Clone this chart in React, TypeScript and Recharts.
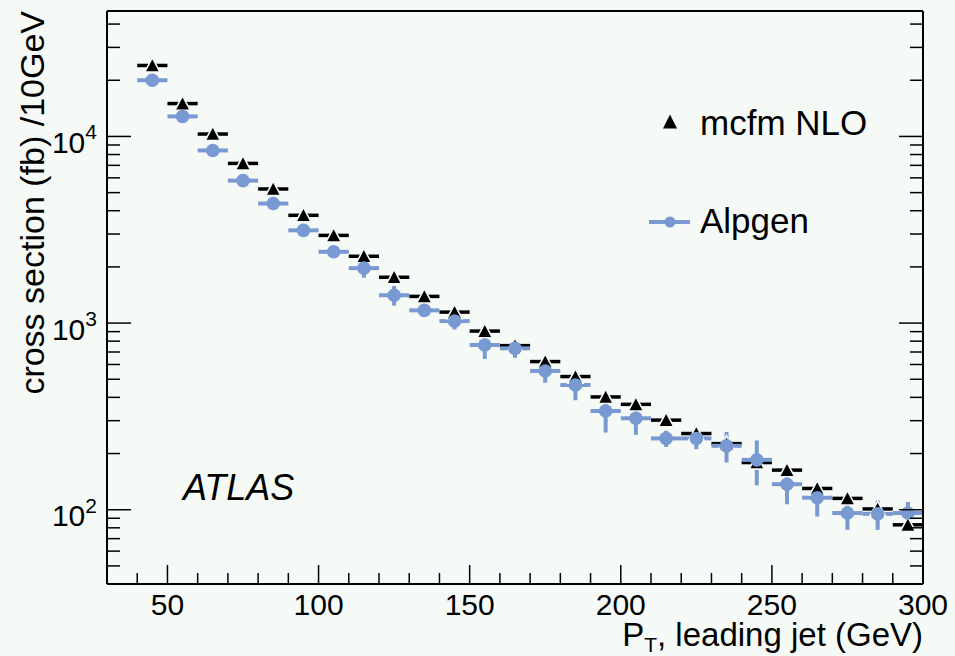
import { ScatterChart, Scatter, XAxis, YAxis, ErrorBar } from "recharts";

const BG = "#f5faf7";
const BLUE = "#7899d2";
const FONT = "'Liberation Sans', Arial, Helvetica, sans-serif";

// leading-jet pT bin centres (GeV), 10 GeV wide bins
const ptBins = [
  45, 55, 65, 75, 85, 95, 105, 115, 125, 135, 145, 155, 165,
  175, 185, 195, 205, 215, 225, 235, 245, 255, 265, 275, 285, 295,
];
const binHalfWidth = 5;

// cross section (fb) per 10 GeV
const mcfmNlo = [
  24000, 15000, 10300, 7170, 5230, 3780, 2950, 2280, 1760, 1390, 1145, 906, 757,
  622, 517, 402, 367, 302, 256, 226, 179, 163, 130, 115, 101, 83,
];
const alpgen = [
  20000, 12800, 8410, 5800, 4370, 3140, 2410, 1970, 1410, 1170, 1025, 763, 732,
  554, 466, 338, 309, 241, 241, 220, 185, 137, 116, 96, 95, 96,
];
const alpgenErr = [
  400, 300, 250, 200, 150, 130, 120, 220, 170, 90, 100, 120, 80,
  75, 80, 79, 57, 24, 30, 41, 50, 30, 24, 18, 17, 14,
];

const xTicks = [
  40, 50, 60, 70, 80, 90, 100, 110, 120, 130, 140, 150, 160, 170, 180,
  190, 200, 210, 220, 230, 240, 250, 260, 270, 280, 290, 300,
];
const xMajor = [50, 100, 150, 200, 250, 300];
const yTicks = [
  40, 50, 60, 70, 80, 90, 100, 200, 300, 400, 500, 600, 700, 800, 900,
  1000, 2000, 3000, 4000, 5000, 6000, 7000, 8000, 9000, 10000, 20000, 30000, 40000,
];
const yMajor = [100, 1000, 10000];
const yExponent: Record<number, string> = { 100: "2", 1000: "3", 10000: "4" };

const xDomain = [30, 300];
const yDomain = [40, 47000];

const mcfmData = ptBins.map((pt, i) => ({ pt, xs: mcfmNlo[i], xErr: binHalfWidth }));
const alpgenData = ptBins.map((pt, i) => ({
  pt,
  xs: alpgen[i],
  xErr: binHalfWidth,
  yErr: alpgenErr[i],
}));

const XTick = (props: any) => {
  const { x, y, payload, side } = props;
  const major = xMajor.includes(payload.value);
  const len = major ? 19 : 11;
  const dir = side === "bottom" ? -1 : 1;
  return (
    <g>
      <line x1={x} x2={x} y1={y} y2={y + dir * len} stroke="#000" strokeWidth={1.5} />
      {side === "bottom" && major && (
        <text x={x} y={y + 31} textAnchor="middle" fontSize={30} fontFamily={FONT} fill="#000">
          {payload.value}
        </text>
      )}
    </g>
  );
};

const YTick = (props: any) => {
  const { x, y, payload, side } = props;
  const major = yMajor.includes(payload.value);
  const len = major ? 24 : 13;
  const dir = side === "left" ? 1 : -1;
  return (
    <g>
      <line x1={x} x2={x + dir * len} y1={y} y2={y} stroke="#000" strokeWidth={1.5} />
      {side === "left" && major && (
        <text x={x - 10} y={y + 16.5} textAnchor="end" fontSize={30} fontFamily={FONT} fill="#000">
          <tspan>10</tspan>
          <tspan dy={-13.5} fontSize={21}>
            {yExponent[payload.value]}
          </tspan>
        </text>
      )}
    </g>
  );
};

// filled triangle with a thin background rim, so the bin bar stops short of the marker
const Triangle = ({ cx, cy }: any) => (
  <path
    d={`M${cx},${cy - 7.8} L${cx + 7.6},${cy + 6.6} L${cx - 7.6},${cy + 6.6} Z`}
    fill="#000"
    stroke={BG}
    strokeWidth={1.6}
  />
);

const Dot = ({ cx, cy }: any) => <circle cx={cx} cy={cy} r={6.8} fill={BLUE} />;

export default function App() {
  return (
    <div style={{ position: "fixed", left: 0, top: 0, width: 955, height: 656, background: BG }}>
      <ScatterChart width={955} height={656} margin={{ top: 0, right: 0, bottom: 0, left: 0 }}>
        <XAxis
          xAxisId="bottom"
          dataKey="pt"
          type="number"
          domain={xDomain}
          ticks={xTicks}
          interval={0}
          height={72}
          tickSize={0}
          tickMargin={0}
          axisLine={{ stroke: "#000", strokeWidth: 2 }}
          tick={(p: any) => <XTick {...p} side="bottom" />}
        />
        <XAxis
          xAxisId="top"
          orientation="top"
          type="number"
          domain={xDomain}
          ticks={xTicks}
          interval={0}
          height={11}
          tickSize={0}
          tickMargin={0}
          axisLine={{ stroke: "#000", strokeWidth: 2 }}
          tick={(p: any) => <XTick {...p} side="top" />}
        />
        <YAxis
          yAxisId="left"
          dataKey="xs"
          type="number"
          scale="log"
          domain={yDomain}
          allowDataOverflow
          ticks={yTicks}
          interval={0}
          width={107}
          tickSize={0}
          tickMargin={0}
          axisLine={{ stroke: "#000", strokeWidth: 2 }}
          tick={(p: any) => <YTick {...p} side="left" />}
        />
        <YAxis
          yAxisId="right"
          orientation="right"
          type="number"
          scale="log"
          domain={yDomain}
          allowDataOverflow
          ticks={yTicks}
          interval={0}
          width={32}
          tickSize={0}
          tickMargin={0}
          axisLine={{ stroke: "#000", strokeWidth: 2 }}
          tick={(p: any) => <YTick {...p} side="right" />}
        />
        <Scatter
          name="mcfm NLO"
          data={mcfmData}
          xAxisId="bottom"
          yAxisId="left"
          shape={<Triangle />}
          isAnimationActive={false}
        >
          <ErrorBar dataKey="xErr" direction="x" width={0} stroke="#000" strokeWidth={3.5} />
        </Scatter>
        <Scatter
          name="Alpgen"
          data={alpgenData}
          xAxisId="bottom"
          yAxisId="left"
          shape={<Dot />}
          isAnimationActive={false}
        >
          <ErrorBar dataKey="xErr" direction="x" width={0} stroke={BLUE} strokeWidth={4} />
          <ErrorBar dataKey="yErr" direction="y" width={0} stroke={BLUE} strokeWidth={4} />
        </Scatter>
      </ScatterChart>

      <svg
        width={955}
        height={656}
        style={{ position: "absolute", left: 0, top: 0, pointerEvents: "none" }}
        fontFamily={FONT}
      >
        <text transform="translate(44, 11) rotate(-90)" textAnchor="end" fontSize={34} fill="#000">
          cross section (fb) /10GeV
        </text>
        <text x={923} y={646} textAnchor="end" fontSize={33} fill="#000">
          <tspan>P</tspan>
          <tspan dy={6} fontSize={21}>T</tspan>
          <tspan dy={-6}>, leading jet (GeV)</tspan>
        </text>
        <text x={183} y={500} fontSize={36} fontStyle="italic" fill="#000">
          ATLAS
        </text>

        {/* legend */}
        <path d="M670,114.5 L677,128.5 L663,128.5 Z" fill="#000" />
        <text x={700} y={135} fontSize={35} fill="#000">
          mcfm NLO
        </text>
        <line x1={649} x2={690} y1={222} y2={222} stroke={BLUE} strokeWidth={4} />
        <circle cx={670} cy={222} r={5.5} fill={BLUE} />
        <text x={700} y={233} fontSize={35} fill="#000">
          Alpgen
        </text>
      </svg>
    </div>
  );
}
